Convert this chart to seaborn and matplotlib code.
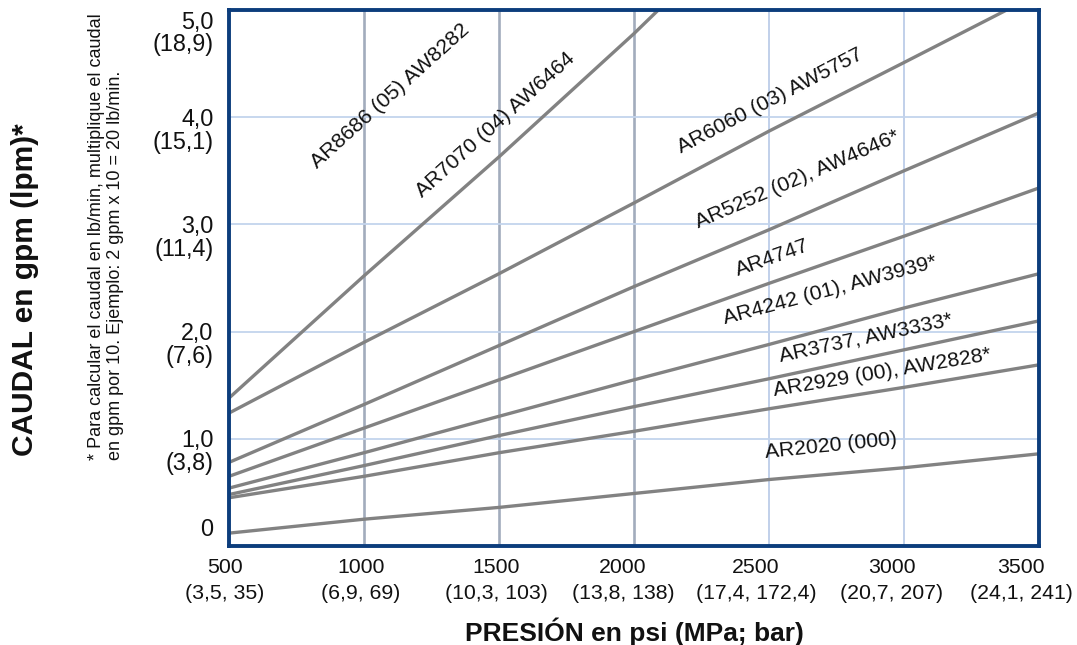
import matplotlib
matplotlib.use("Agg")
import matplotlib.pyplot as plt
import pandas as pd
import seaborn as sns
from matplotlib.transforms import ScaledTranslation

# ---------------- data ----------------
psi_ar7070 = [500, 1000, 1500, 2000, 2090]
gpm_ar7070 = [1.38, 2.52, 3.63, 4.78, 5.00]

psi_ar6060 = [500, 1000, 1500, 2000, 2500, 3000, 3380]
gpm_ar6060 = [1.24, 1.90, 2.54, 3.20, 3.87, 4.51, 5.00]

psi_full = [500, 1000, 1500, 2000, 2500, 3000, 3500]
gpm_ar5252 = [0.78, 1.32, 1.87, 2.42, 2.95, 3.50, 4.04]
gpm_ar4747 = [0.65, 1.10, 1.55, 2.00, 2.45, 2.89, 3.34]
gpm_ar4242 = [0.54, 0.87, 1.21, 1.55, 1.88, 2.22, 2.54]
gpm_ar3737 = [0.48, 0.75, 1.03, 1.30, 1.56, 1.83, 2.10]
gpm_ar2929 = [0.45, 0.65, 0.87, 1.07, 1.28, 1.48, 1.69]
gpm_ar2020 = [0.12, 0.25, 0.36, 0.49, 0.62, 0.73, 0.86]

x_ticks = [500, 1000, 1500, 2000, 2500, 3000, 3500]
x_ticklabels = ["500\n(3,5, 35)", "1000\n(6,9, 69)", "1500\n(10,3, 103)",
                "2000\n(13,8, 138)", "2500\n(17,4, 172,4)", "3000\n(20,7, 207)",
                "3500\n(24,1, 241)"]
y_ticks = [0, 1, 2, 3, 4, 5]
y_ticklabels = ["0", "1,0\n(3,8)", "2,0\n(7,6)", "3,0\n(11,4)", "4,0\n(15,1)", "5,0\n(18,9)"]

line_labels = ["AR8686 (05) AW8282", "AR7070 (04) AW6464", "AR6060 (03) AW5757",
               "AR5252 (02), AW4646*", "AR4747", "AR4242 (01), AW3939*",
               "AR3737, AW3333*", "AR2929 (00), AW2828*", "AR2020 (000)"]

x_title = "PRESIÓN en psi (MPa; bar)"
y_title = "CAUDAL en gpm (lpm)*"
footnote = ("* Para calcular el caudal en lb/min, multiplique el caudal\n"
            "en gpm por 10. Ejemplo: 2 gpm x 10 = 20 lb/min.")

# label placement (data coords centre, screen angle)
label_place = [(1096, 4.20, 42), (1485, 3.93, 42), (2504, 4.15, 27.5),
               (2604, 3.42, 23.4), (2511, 2.69, 19.6), (2726, 2.39, 15.0),
               (2859, 1.94, 12.0), (2919, 1.62, 9.4), (2730, 0.93, 5.8)]

# pixel nudges of tick labels
x_label_nudge = [-4, -3, -3, -11, -13, -12, -18]
y_label_nudge = [19, -11, -11, -11, -11, -21]

# ---------------- build long table ----------------
series = [("AR7070", psi_ar7070, gpm_ar7070), ("AR6060", psi_ar6060, gpm_ar6060),
          ("AR5252", psi_full, gpm_ar5252), ("AR4747", psi_full, gpm_ar4747),
          ("AR4242", psi_full, gpm_ar4242), ("AR3737", psi_full, gpm_ar3737),
          ("AR2929", psi_full, gpm_ar2929), ("AR2020", psi_full, gpm_ar2020)]
df = pd.concat([pd.DataFrame({"psi": xs, "gpm": ys, "model": n}) for n, xs, ys in series],
               ignore_index=True)

# ---------------- plot ----------------
sns.set_theme(style="white")
plt.rcParams["font.family"] = ["Liberation Sans", "DejaVu Sans"]

DPI = 100
fig = plt.figure(figsize=(10.77, 6.45), dpi=DPI)
ax = fig.add_axes([229 / 1077, 1 - 546 / 645, 810 / 1077, 536 / 645])

# grid
for xv in [1000, 1500, 2000]:
    ax.axvline(xv, color="#a2acbc", lw=1.9, zorder=1)
for xv in [2500, 3000]:
    ax.axvline(xv, color="#b6c8e6", lw=1.2, zorder=1)
for yv in [1, 2, 3, 4]:
    ax.axhline(yv, color="#c3d4ed", lw=1.3, zorder=1)

sns.lineplot(data=df, x="psi", y="gpm", units="model", estimator=None,
             color="#828282", lw=2.4, ax=ax, legend=False, zorder=3)

ax.set_xlim(500, 3500)
ax.set_ylim(0, 5)

for sp in ax.spines.values():
    sp.set_color("#0c3d7c")
    sp.set_linewidth(2.8)
    sp.set_zorder(5)

ax.tick_params(axis="both", length=0)
ax.tick_params(axis="x", pad=8.5)
ax.tick_params(axis="y", pad=11)
ax.set_xticks(x_ticks, labels=x_ticklabels, fontsize=15.3, linespacing=1.45, color="#111111")
ax.set_yticks(y_ticks, labels=y_ticklabels, fontsize=16.8, linespacing=1.0, color="#111111")

for tick, dx in zip(ax.xaxis.get_major_ticks(), x_label_nudge):
    lab = tick.label1
    lab.set_transform(lab.get_transform() + ScaledTranslation(dx / DPI, 0, fig.dpi_scale_trans))
for tick, dy in zip(ax.yaxis.get_major_ticks(), y_label_nudge):
    lab = tick.label1
    lab.set_transform(lab.get_transform() + ScaledTranslation(0, dy / DPI, fig.dpi_scale_trans))

ax.set_xlabel(x_title, fontsize=19, fontweight="bold", labelpad=11, color="#111111")
ax.set_ylabel("")

fig.text(25 / 1077, 1 - 290 / 645, y_title, rotation=90, ha="center", va="center",
         fontsize=21.5, fontweight="bold", color="#111111")
fig.text(106 / 1077, 1 - 460 / 645, footnote, rotation=90, ha="center", va="bottom",
         multialignment="left", fontsize=13, linespacing=1.2, color="#111111")

for txt, (px, py, ang) in zip(line_labels, label_place):
    ax.text(px, py, txt, rotation=ang, rotation_mode="anchor", ha="center", va="center",
            fontsize=15.3, color="#111111", zorder=4)

fig.savefig("out.png", dpi=DPI)
